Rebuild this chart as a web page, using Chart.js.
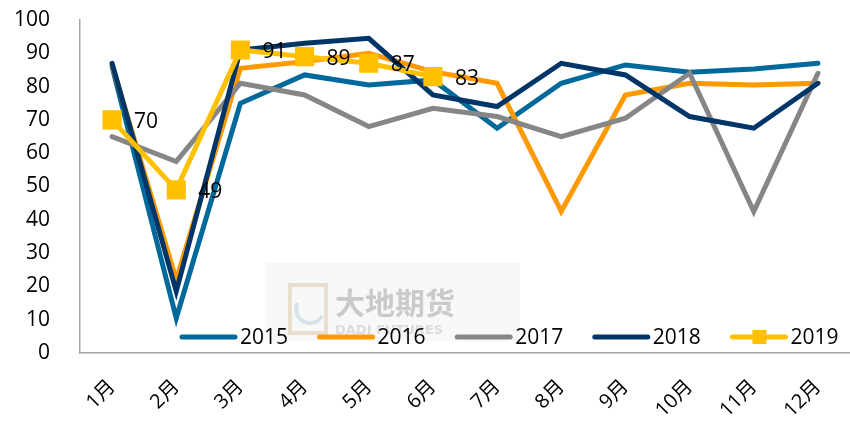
<!DOCTYPE html>
<html>
<head>
<meta charset="utf-8">
<script src="https://cdn.jsdelivr.net/npm/chart.js@4.4.0/dist/chart.umd.min.js"></script>
<style>
  html,body{margin:0;padding:0;background:#fff;}
  #wrap{width:850px;height:423px;}
</style>
</head>
<body>
<div id="wrap"><canvas id="c" width="850" height="423"></canvas></div>
<script>
// monthly series
const months = ["1月","2月","3月","4月","5月","6月","7月","8月","9月","10月","11月","12月"];
const yTicks = [0,10,20,30,40,50,60,70,80,90,100];
const v2015 = [86, 10.5, 75, 83.5, 80.5, 82, 67.5, 81, 86.5, 84.3, 85.3, 87];
const v2016 = [86.5, 22, 85.5, 87.5, 90, 84.5, 81, 42.5, 77.5, 81, 80.5, 81];
const v2017 = [65, 57.5, 81, 77.5, 68, 73.5, 71, 65, 70.5, 84, 42.5, 84];
const v2018 = [87, 18.5, 91, 93, 94.5, 77.5, 74, 87, 83.5, 71, 67.5, 81];
const v2019 = [70, 49, 91, 89, 87, 83, null, null, null, null, null, null];
const seriesNames = ["2015","2016","2017","2018","2019"];
const seriesColors = ["#00699b","#ff9900","#868686","#003567","#ffc000"];

const FONT = "'Open Sans','Noto Sans CJK SC',sans-serif";

function mkSet(i, data){
  return {
    label: seriesNames[i], data,
    borderColor: seriesColors[i], backgroundColor: seriesColors[i],
    borderWidth: 5, tension: 0, pointRadius: 0,
    borderCapStyle: "round", borderJoinStyle: "miter",
    order: 4 - i
  };
}

const sets = [mkSet(0,v2015), mkSet(1,v2016), mkSet(2,v2017), mkSet(3,v2018), mkSet(4,v2019)];
sets[4].pointStyle = "rect";
sets[4].pointRadius = 10;
sets[4].pointHoverRadius = 10;

// faint company watermark behind the lines
const watermark = {
  id: "watermark",
  beforeDatasetsDraw(chart){
    const {ctx, chartArea:a} = chart;
    ctx.save();
    const x0 = a.left + 185, y0 = a.bottom - 90;
    ctx.fillStyle = "#f8f8f8";
    ctx.fillRect(x0, y0, 255, 78);
    ctx.strokeStyle = "#e8dfcf";
    ctx.lineWidth = 4;
    ctx.strokeRect(x0 + 25, y0 + 22, 36, 48);
    ctx.strokeStyle = "#d6e3eb";
    ctx.beginPath();
    ctx.arc(x0 + 45, y0 + 46, 14, 0.5, 3.6);
    ctx.stroke();
    ctx.fillStyle = "#cacaca";
    ctx.font = "bold 30px 'Noto Sans CJK SC'";
    ctx.textBaseline = "middle";
    ctx.fillText("大地期货", x0 + 70, y0 + 40);
    ctx.fillStyle = "#dcdcdc";
    ctx.font = "bold 13px 'DejaVu Sans'";
    ctx.fillText("DADI FUTURES", x0 + 70, y0 + 68);
    ctx.restore();
  }
};

// legend drawn inside the plot, bottom row
const inLegend = {
  id: "inLegend",
  afterDatasetsDraw(chart){
    const {ctx, chartArea:a} = chart;
    ctx.save();
    const y = a.bottom - 16;
    ctx.font = "21px " + FONT;
    ctx.textBaseline = "middle";
    ctx.fillStyle = "#000";
    for (let i=0;i<seriesNames.length;i++){
      const x = a.left + 102 + i*137.6;
      ctx.strokeStyle = seriesColors[i];
      ctx.lineWidth = 5;
      ctx.lineCap = "round";
      ctx.beginPath(); ctx.moveTo(x, y); ctx.lineTo(x+53, y); ctx.stroke();
      if (i === 4){
        ctx.fillStyle = seriesColors[i];
        ctx.fillRect(x + 20, y - 7, 14, 14);
        ctx.fillStyle = "#000";
      }
      ctx.fillText(seriesNames[i], x + 58, y + 1);
    }
    // value labels for 2019
    const meta = chart.getDatasetMeta(4);
    ctx.textAlign = "left";
    meta.data.forEach((pt, k)=>{
      if (v2019[k] === null) return;
      ctx.fillText(String(v2019[k]), pt.x + 22, pt.y + 2);
    });
    ctx.restore();
  }
};

Chart.defaults.font.family = FONT;
Chart.defaults.color = "#000";

new Chart(document.getElementById("c"), {
  type: "line",
  data: { labels: months, datasets: sets },
  options: {
    responsive: false, animation: false,
    layout: { autoPadding: false, padding: { top: 20, right: 0, left: 0, bottom: 0 } },
    plugins: { legend: { display: false }, tooltip: { enabled: false } },
    scales: {
      x: {
        offset: true,
        grid: { display: false, drawTicks: false },
        border: { display: true, color: "#a6a6a6", width: 1.5 },
        ticks: { minRotation: 45, maxRotation: 45, padding: 22, font: { size: 20 }, color: "#000" },
        afterFit(s){ s.height = 70; s.paddingLeft = 0; s.paddingRight = 0; }
      },
      y: {
        min: 0, max: 100,
        afterBuildTicks(s){ s.ticks = yTicks.map(v=>({value:v})); },
        grid: { display: false, drawTicks: false },
        border: { display: true, color: "#a6a6a6", width: 1.5 },
        ticks: { padding: 30, font: { size: 21 }, color: "#000" },
        afterFit(s){ s.width = 80; s.paddingTop = 0; s.paddingBottom = 0; }
      }
    }
  },
  plugins: [watermark, inLegend]
});
</script>
</body>
</html>
